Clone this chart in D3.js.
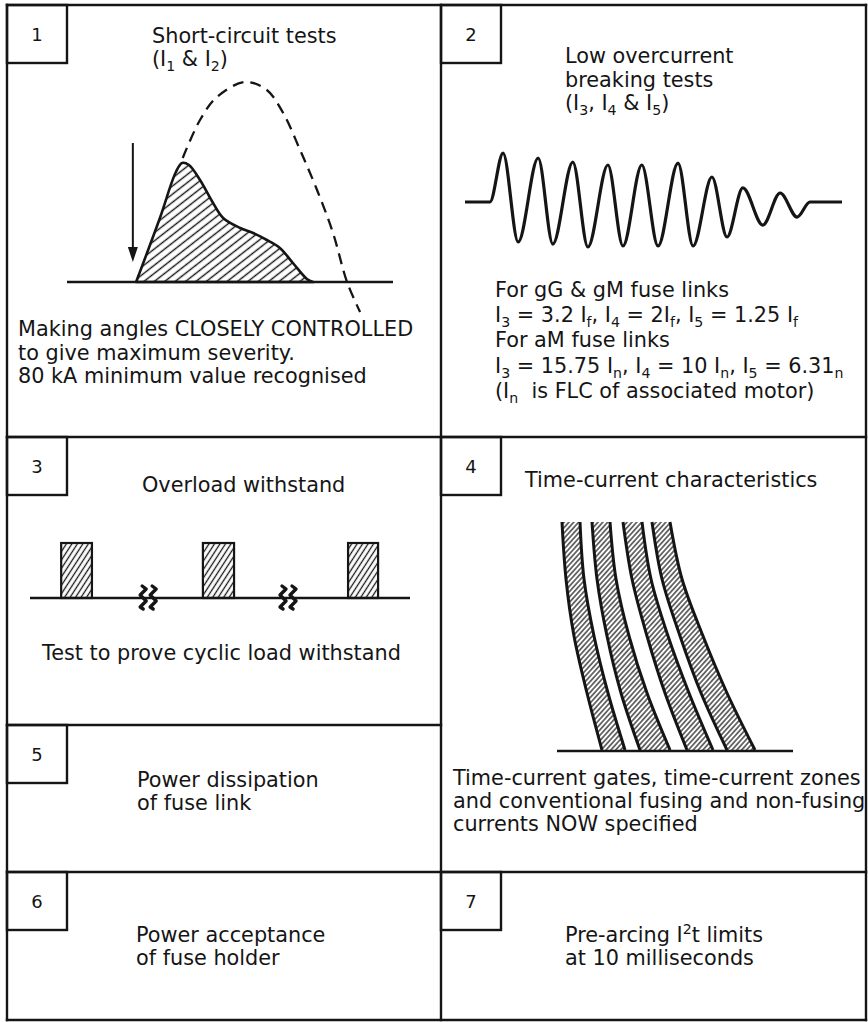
<!DOCTYPE html>
<html><head><meta charset="utf-8">
<script src="https://cdn.jsdelivr.net/npm/d3@7"></script>
<style>
body{margin:0;background:#fff}
svg{display:block}
text{font-family:"DejaVu Sans",sans-serif;fill:#151515;white-space:pre}
</style>
</head><body>
<svg id="c" width="868" height="1022"></svg>
<script>
// ---------------- DATA ----------------
const panelNumbers = ["1","2","3","4","5","6","7"];

// Panel 1: prospective current (dashed) and cut-off current (hatched); time units vs % of prospective peak
const prospT = [35.5, 40.8, 46, 54.6, 61.3, 66.3, 71.5, 76.7, 81.6, 85.9, 89.9];
const prospI = [62, 81, 92.5, 100, 96, 84.5, 66, 46, 24.5, 0, -15];
const letT = [21.2, 28.5, 33.4, 35.3, 37.4, 40.8, 44.8, 47.9, 53.1, 57.1, 61.3, 65.3, 69.3, 73.6, 75.5];
const letI = [0, 32, 55, 59.5, 58.5, 51, 39.5, 32, 27, 24.5, 21, 17, 9.5, 1.5, 0];
const makingT = 20.2;
const makingI = [69.5, 10];

// Panel 2: low overcurrent breaking waveform (time units, current amplitude)
const waveT = [0, 6.6, 10.1, 14.1, 19.4, 23.3, 28.6, 32.6, 37.9, 41.9, 46.9, 51.2, 56.5, 60.5, 65.5, 69.5, 73.7, 79.0, 83.6, 88.1, 91.5, 100];
const waveA = [0, 0, 54.4, -44.4, 48.9, -46.7, 44.4, -50, 41.1, -48.9, 41.1, -48.9, 43.3, -48.9, 27.8, -38.9, 15.6, -25.6, 10, -16.7, 0, 0];

// Panel 3: overload pulses (time units) and time-axis breaks
const pulseStart = [8.2, 45.5, 83.7];
const pulseEnd = [16.3, 53.7, 91.6];
const breakT = [31.1, 67.9];

// Panel 4: time-current bands (current units at each time level)
const bandLevels = [228, 171, 114, 57, 0];
const bandLeft = [[5, 9, 17, 30, 45], [35, 40, 50, 64, 83], [66, 75, 90, 108, 130], [95, 105, 123, 144, 170]];
const bandRight = [[23, 27, 37, 51, 68], [53, 59, 72, 90, 113], [85, 94, 111, 132, 156], [113, 125, 146, 170, 198]];

// Texts: each line is a list of [text, kind] parts (kind: "", "sub", "sup")
const p1Title = [[["Short-circuit tests"]], [["(I"], ["1","sub"], [" & I"], ["2","sub"], [")"]]];
const p1Notes = [[["Making angles CLOSELY CONTROLLED"]], [["to give maximum severity."]], [["80 kA minimum value recognised"]]];
const p2Title = [[["Low overcurrent"]], [["breaking tests"]], [["(I"], ["3","sub"], [", I"], ["4","sub"], [" & I"], ["5","sub"], [")"]]];
const p2Notes = [
  [["For gG & gM fuse links"]],
  [["I"],["3","sub"],[" = 3.2 I"],["f","sub"],[", I"],["4","sub"],[" = 2I"],["f","sub"],[", I"],["5","sub"],[" = 1.25 I"],["f","sub"]],
  [["For aM fuse links"]],
  [["I"],["3","sub"],[" = 15.75 I"],["n","sub"],[", I"],["4","sub"],[" = 10 I"],["n","sub"],[", I"],["5","sub"],[" = 6.31"],["n","sub"]],
  [["(I"],["n","sub"],["  is FLC of associated motor)"]]
];
const p3Title = [[["Overload withstand"]]];
const p3Notes = [[["Test to prove cyclic load withstand"]]];
const p4Title = [[["Time-current characteristics"]]];
const p4Notes = [[["Time-current gates, time-current zones"]], [["and conventional fusing and non-fusing"]], [["currents NOW specified"]]];
const p5Title = [[["Power dissipation"]], [["of fuse link"]]];
const p6Title = [[["Power acceptance"]], [["of fuse holder"]]];
const p7Title = [[["Pre-arcing I"], ["2","sup"], ["t limits"]], [["at 10 milliseconds"]]];

// ---------------- DRAW ----------------
const svg = d3.select("#c");
const FS = 20.8;
const ink = "#151515";
const defs = svg.append("defs");
function hatch(id, spacing, angle, w) {
  const p = defs.append("pattern").attr("id", id).attr("patternUnits", "userSpaceOnUse")
    .attr("width", 20).attr("height", spacing).attr("patternTransform", `rotate(${angle})`);
  p.append("rect").attr("width", 20).attr("height", spacing).attr("fill", "#fff");
  p.append("line").attr("x1", 0).attr("x2", 20).attr("y1", spacing / 2).attr("y2", spacing / 2)
    .attr("stroke", ink).attr("stroke-width", w);
}
hatch("h1", 6.4, -38, 1.4);
hatch("h3", 4.6, -57, 1.3);
hatch("h4", 3.6, -48, 1.2);

function rich(x, y, parts, size, anchor) {
  const t = svg.append("text").attr("x", x).attr("y", y).style("font-size", size + "px")
    .attr("text-anchor", anchor || "start");
  let shift = 0;
  parts.forEach(p => {
    const s = p[0], k = p[1] || "";
    const target = k === "sub" ? 5 : k === "sup" ? -8 : 0;
    const ts = t.append("tspan").attr("dy", target - shift).text(s);
    if (k) ts.style("font-size", (size * 0.68) + "px");
    shift = target;
  });
  return t;
}
function lines(x, y0, step, arr) {
  arr.forEach((ln, i) => rich(x, y0 + i * step, ln, FS));
}

// ---- Grid frame ----
const frame = [
  [7, 5, 866, 5], [7, 5, 7, 1020], [441, 5, 441, 1020], [866, 5, 866, 1020],
  [7, 437, 866, 437], [7, 725, 441, 725], [7, 872, 866, 872], [7, 1020, 866, 1020]
];
svg.append("g").selectAll("line").data(frame).join("line")
  .attr("x1", d => d[0]).attr("y1", d => d[1]).attr("x2", d => d[2]).attr("y2", d => d[3])
  .attr("stroke", ink).attr("stroke-width", 2.4).attr("stroke-linecap", "square");

// number boxes
const boxes = [[7, 5], [441, 5], [7, 437], [441, 437], [7, 725], [7, 872], [441, 872]];
const bg = svg.append("g");
boxes.forEach((b, i) => {
  bg.append("rect").attr("x", b[0]).attr("y", b[1]).attr("width", 60).attr("height", 58)
    .attr("fill", "none").attr("stroke", ink).attr("stroke-width", 2.4);
  bg.append("text").attr("x", b[0] + 30).attr("y", b[1] + 35.5).attr("text-anchor", "middle")
    .style("font-size", "18px").text(panelNumbers[i]);
});

// ---- Panel 1 ----
const x1 = d3.scaleLinear().domain([0, 100]).range([67, 393]);
const y1 = d3.scaleLinear().domain([0, 100]).range([282, 82]);
const letPts = letT.map((t, i) => [x1(t), y1(letI[i])]);
svg.append("path").attr("d", d3.line().curve(d3.curveCatmullRom.alpha(0.5))(letPts) + "Z")
  .attr("fill", "url(#h1)").attr("stroke", ink).attr("stroke-width", 2.6).attr("stroke-linejoin", "round");
svg.append("line").attr("x1", x1(0)).attr("x2", x1(100)).attr("y1", y1(0)).attr("y2", y1(0))
  .attr("stroke", ink).attr("stroke-width", 2.4);
const prospPts = prospT.map((t, i) => [x1(t), y1(prospI[i])]);
svg.append("path").attr("d", d3.line().curve(d3.curveCatmullRom.alpha(0.5))(prospPts))
  .attr("fill", "none").attr("stroke", ink).attr("stroke-width", 2.3).attr("stroke-dasharray", "11,7");
svg.append("line").attr("x1", x1(makingT)).attr("x2", x1(makingT))
  .attr("y1", y1(makingI[0])).attr("y2", y1(makingI[1]) - 12).attr("stroke", ink).attr("stroke-width", 2);
svg.append("path").attr("d", d3.line()([[x1(makingT) - 5, y1(makingI[1]) - 15], [x1(makingT) + 5, y1(makingI[1]) - 15], [x1(makingT), y1(makingI[1])]]) + "Z")
  .attr("fill", ink);
lines(152, 43, 23, p1Title);
lines(18, 336, 23.5, p1Notes);

// ---- Panel 2 ----
const x2 = d3.scaleLinear().domain([0, 100]).range([465, 842]);
const y2 = d3.scaleLinear().domain([-50, 50]).range([247, 157]);
svg.append("path").attr("d", d3.line().x((t) => x2(t)).y((t, i) => y2(waveA[i])).curve(d3.curveMonotoneX)(waveT))
  .attr("fill", "none").attr("stroke", ink).attr("stroke-width", 3.2).attr("stroke-linejoin", "round");
lines(565, 63, 23.5, p2Title);
lines(495, 297, 25.2, p2Notes);

// ---- Panel 3 ----
const x3 = d3.scaleLinear().domain([0, 100]).range([30, 410]);
const y3 = d3.scaleLinear().domain([0, 1]).range([598, 543]);
svg.append("g").selectAll("rect").data(pulseStart).join("rect")
  .attr("x", d => x3(d)).attr("width", (d, i) => x3(pulseEnd[i]) - x3(d))
  .attr("y", y3(1)).attr("height", y3(0) - y3(1))
  .attr("fill", "url(#h3)").attr("stroke", ink).attr("stroke-width", 2.2);
svg.append("line").attr("x1", x3(0)).attr("x2", x3(100)).attr("y1", y3(0)).attr("y2", y3(0))
  .attr("stroke", ink).attr("stroke-width", 2.4);
const squig = [[-1, -12], [3, -9], [-3, -3], [3, 3], [-3, 9], [0, 11]];
breakT.forEach(t => {
  [-5, 5].forEach(off => {
    svg.append("path").attr("d", d3.line()(squig.map(p => [x3(t) + off + p[0], y3(0) + p[1]])))
      .attr("fill", "none").attr("stroke", ink).attr("stroke-width", 3.4)
      .attr("stroke-linejoin", "round").attr("stroke-linecap", "round");
  });
});
lines(142, 492, 23, p3Title);
lines(42, 660, 23, p3Notes);

// ---- Panel 4 ----
const x4 = d3.scaleLinear().domain([0, 236]).range([557, 793]);
const y4 = d3.scaleLinear().domain([0, 228]).range([750, 522]);
bandLeft.forEach((L, b) => {
  const R = bandRight[b];
  const area = d3.area().y((d, i) => y4(bandLevels[i])).x0((d, i) => x4(L[i])).x1((d, i) => x4(R[i]))
    .curve(d3.curveCatmullRom.alpha(0.5));
  svg.append("path").attr("d", area(bandLevels)).attr("fill", "url(#h4)");
  [L, R].forEach(E => {
    svg.append("path").attr("d", d3.line().x((d, i) => x4(E[i])).y((d, i) => y4(bandLevels[i])).curve(d3.curveCatmullRom.alpha(0.5))(bandLevels))
      .attr("fill", "none").attr("stroke", ink).attr("stroke-width", 3);
  });
});
svg.append("line").attr("x1", x4(0)).attr("x2", x4(236)).attr("y1", y4(0) + 1).attr("y2", y4(0) + 1)
  .attr("stroke", ink).attr("stroke-width", 2.6);
lines(525, 487, 23, p4Title);
lines(453, 785, 23, p4Notes);

// ---- Panels 5, 6, 7 ----
lines(137, 787, 22.5, p5Title);
lines(136, 942, 23, p6Title);
lines(565, 942, 23, p7Title);
</script>
</body></html>
